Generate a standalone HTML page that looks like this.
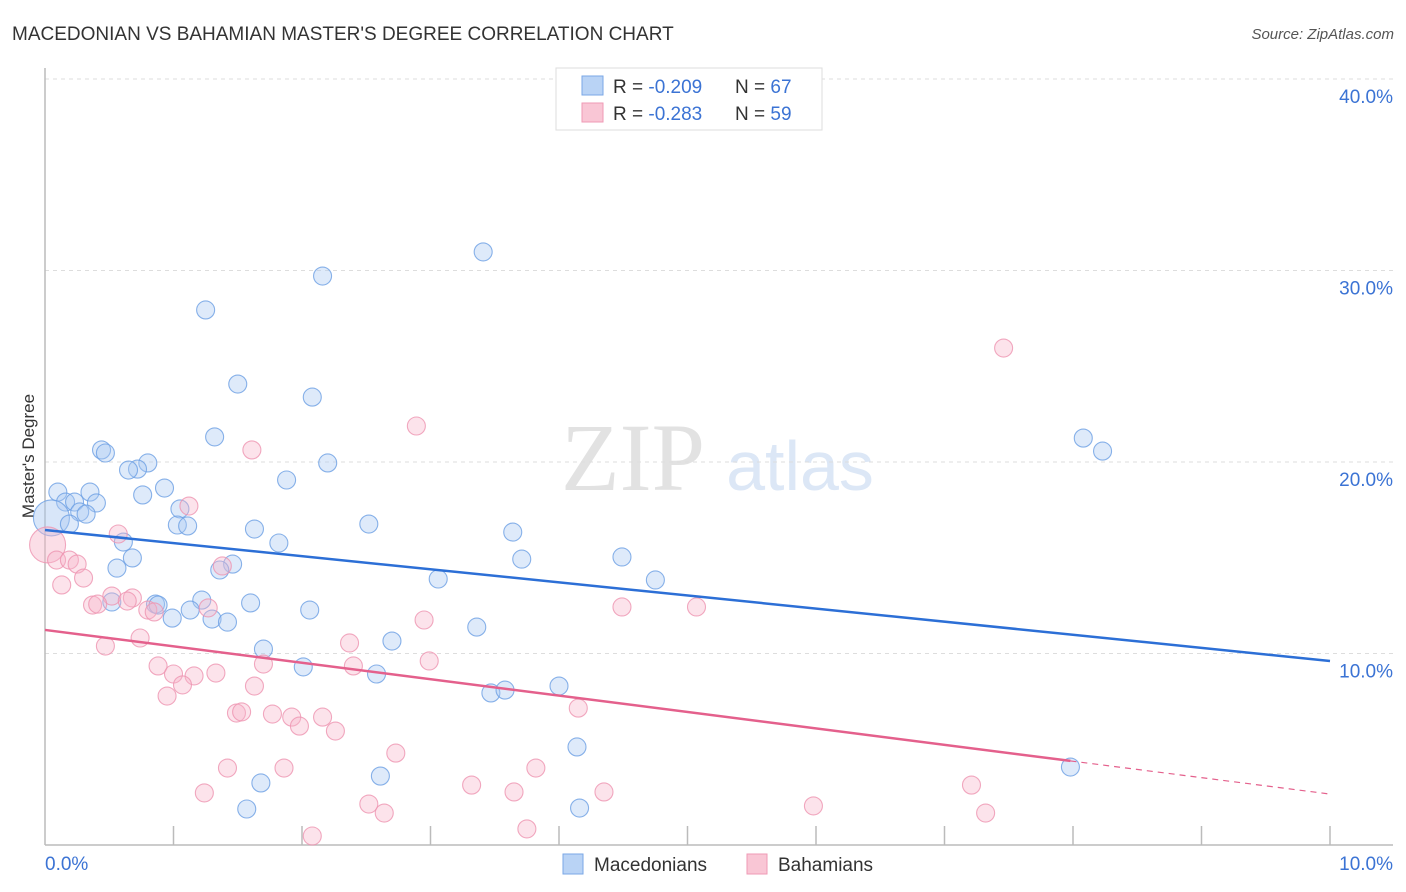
<!DOCTYPE html>
<html><head><meta charset="utf-8">
<style>
body{margin:0;background:#fff;font-family:"Liberation Sans",sans-serif;}
svg{display:block}
</style></head>
<body>
<svg id="chart" width="1406" height="892" xmlns="http://www.w3.org/2000/svg">
<text x="12" y="40" font-size="19" fill="#333">MACEDONIAN VS BAHAMIAN MASTER'S DEGREE CORRELATION CHART</text>
<text x="1394" y="39" font-size="15" fill="#555" font-style="italic" text-anchor="end">Source: ZipAtlas.com</text>
<text x="34" y="456" font-size="17" fill="#333" text-anchor="middle" transform="rotate(-90 34 456)">Master's Degree</text>
<g>
<text x="633" y="490" font-size="96" fill="#e2e2e2" font-family="Liberation Serif,serif" text-anchor="middle">ZIP</text>
<text x="800" y="490" font-size="70" fill="#dce7f6" text-anchor="middle">atlas</text>
</g>
<g id="grid"></g>
<g id="axes"></g>
<g id="points"></g>
<g id="trends"></g>
<g>
<rect x="556" y="68" width="266" height="62" fill="#fff" stroke="#ddd"/>
<rect x="582" y="76" width="21" height="19" fill="#b9d3f5" stroke="#7aa7e6"/>
<rect x="582" y="103" width="21" height="19" fill="#f9c6d5" stroke="#ef9ab5"/>
<text x="613" y="93" font-size="19" fill="#333">R = <tspan fill="#3b73d4">-0.209</tspan><tspan x="735">N = </tspan><tspan fill="#3b73d4">67</tspan></text>
<text x="613" y="120" font-size="19" fill="#333">R =  <tspan fill="#3b73d4">-0.283</tspan><tspan x="735">N = </tspan><tspan fill="#3b73d4">59</tspan></text>
</g>
<g>
<rect x="563" y="854" width="20" height="20" fill="#b9d3f5" stroke="#7aa7e6"/>
<text x="594" y="871" font-size="19" fill="#333">Macedonians</text>
<rect x="747" y="854" width="20" height="20" fill="#f9c6d5" stroke="#ef9ab5"/>
<text x="778" y="871" font-size="19" fill="#333">Bahamians</text>
</g>
</svg>
<script>
const xTicks=[0,1,2,3,4,5,6,7,8,9,10];
const yTicks=[10,20,30,40];
const yTickLabels=["10.0%","20.0%","30.0%","40.0%"];
const macX=[3.41,2.16,1.25,1.50,2.08,1.32,0.44,0.47,0.80,0.72,0.65,2.20,1.88,0.93,0.10,0.35,0.76,0.16,0.23,0.40,0.27,0.32,1.05,0.05,0.19,1.03,1.11,1.63,2.52,3.64,0.61,1.82,0.68,1.46,1.36,0.56,3.71,4.49,3.06,4.75,0.52,0.86,0.88,1.22,1.60,1.13,0.99,1.30,1.42,2.06,3.36,2.70,1.70,2.01,2.58,4.00,3.47,3.58,4.14,2.61,1.68,1.57,4.16,8.08,8.23,7.98];
const macY=[30.97,29.71,27.94,24.07,23.39,21.31,20.63,20.47,19.95,19.63,19.58,19.95,19.06,18.64,18.43,18.43,18.28,17.91,17.91,17.86,17.39,17.28,17.55,17.08,16.76,16.71,16.66,16.50,16.76,16.34,15.82,15.77,14.99,14.67,14.36,14.46,14.93,15.04,13.89,13.84,12.69,12.58,12.53,12.79,12.64,12.27,11.85,11.80,11.64,12.27,11.38,10.65,10.23,9.30,8.93,8.30,7.94,8.09,5.12,3.60,3.24,1.88,1.93,21.25,20.57,4.07];
const bahX=[7.46,2.89,1.61,1.12,0.57,0.02,0.09,0.19,0.25,0.30,0.13,1.38,0.52,0.68,0.64,0.37,0.41,0.80,0.85,1.27,4.49,5.07,2.95,0.74,0.47,2.37,0.88,1.70,2.40,2.99,1.00,1.16,1.33,1.07,1.63,0.95,1.49,1.53,1.77,1.92,2.16,1.98,2.26,4.15,2.73,1.42,1.86,3.82,3.32,3.65,4.35,1.24,2.52,2.64,2.08,3.75,5.98,7.21,7.32];
const bahY=[25.95,21.88,20.63,17.70,16.24,15.67,14.88,14.88,14.67,13.94,13.58,14.57,13.00,12.90,12.74,12.53,12.58,12.27,12.17,12.38,12.43,12.43,11.75,10.81,10.39,10.55,9.35,9.45,9.35,9.61,8.93,8.83,8.98,8.36,8.30,7.78,6.89,6.95,6.84,6.68,6.68,6.21,5.95,7.15,4.80,4.02,4.02,4.02,3.13,2.77,2.77,2.72,2.14,1.67,0.47,0.84,2.04,3.13,1.67];
const macTrend=[16.45,9.61];
const bahTrend=[11.23,2.66];
const bahSolidEnd=7.98;

const NS="http://www.w3.org/2000/svg";
const X=v=>45+v*128.5;
const Y=v=>845-v*19.15;
function mk(tag,attrs,parent){const e=document.createElementNS(NS,tag);for(const k in attrs)e.setAttribute(k,attrs[k]);parent.appendChild(e);return e;}
const grid=document.getElementById('grid'),axes=document.getElementById('axes'),pts=document.getElementById('points'),tr=document.getElementById('trends');
yTicks.forEach((t,i)=>{
 const l=mk('line',{x1:45,x2:1393,y1:Y(t),y2:Y(t),stroke:'#ddd','stroke-dasharray':'4,4'},grid);
 
 
 const tx=mk('text',{x:1393,y:Y(t)+24,'font-size':19,fill:'#3b73d4','text-anchor':'end'},axes);
 tx.textContent=yTickLabels[i];
 
 
});
const al=mk('line',{x1:45,x2:45,y1:68,y2:845,stroke:'#bbb','stroke-width':1.5},axes);


const bl=mk('line',{x1:45,x2:1393,y1:845,y2:845,stroke:'#bbb','stroke-width':1.5},axes);


xTicks.forEach(t=>{if(t===0)return;
 const l=mk('line',{x1:X(t),x2:X(t),y1:826,y2:845,stroke:'#bbb','stroke-width':1.5},axes);
 
 
});
const x0=mk('text',{x:45,y:870,'font-size':19,fill:'#3b73d4'},axes);x0.textContent='0.0%';


const x1=mk('text',{x:1393,y:870,'font-size':19,fill:'#3b73d4','text-anchor':'end'},axes);x1.textContent='10.0%';



function dots(xs,ys,fill,stroke,name,bigIdx){
 xs.forEach((v,i)=>{
  const big=i===bigIdx;
  const c=mk('circle',{cx:X(v),cy:Y(ys[i]),r:big?18:9,fill:fill,'fill-opacity':big?0.45:0.38,stroke:stroke,'stroke-opacity':0.8,'stroke-width':1.1},pts);
  
  
 });
}
dots(macX,macY,'#a9c8f2','#6b9fe3','macedonian-point',23);
dots(bahX,bahY,'#f7b6ca','#ee93b0','bahamian-point',5);

const ml=mk('line',{x1:X(0),y1:Y(macTrend[0]),x2:X(10),y2:Y(macTrend[1]),stroke:'#2c6fd6','stroke-width':2.5},tr);


const bAt=x=>bahTrend[0]+(bahTrend[1]-bahTrend[0])*x/10;
const bs=mk('line',{x1:X(0),y1:Y(bAt(0)),x2:X(bahSolidEnd),y2:Y(bAt(bahSolidEnd)),stroke:'#e4608c','stroke-width':2.5},tr);


const bd=mk('line',{x1:X(bahSolidEnd),y1:Y(bAt(bahSolidEnd)),x2:X(10),y2:Y(bAt(10)),stroke:'#e4608c','stroke-width':1.2,'stroke-dasharray':'6,5'},tr);


</script>
</body></html>
